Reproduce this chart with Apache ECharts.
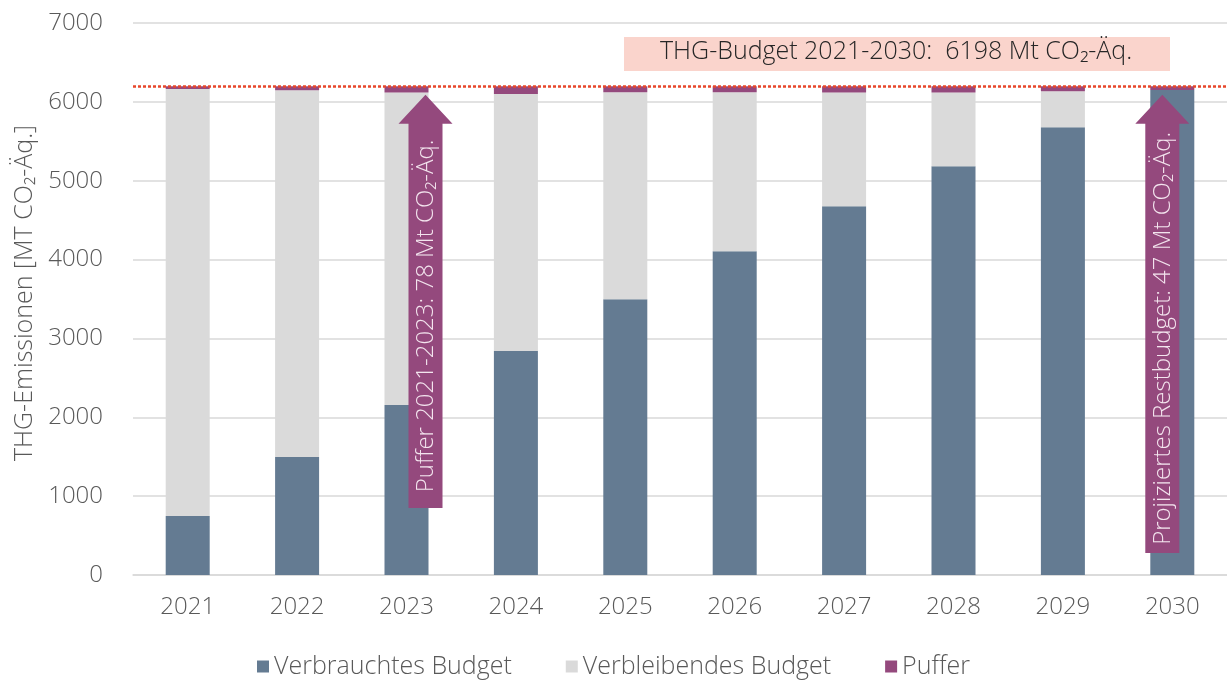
<!DOCTYPE html>
<html>
<head>
<meta charset="utf-8">
<script src="https://cdn.jsdelivr.net/npm/echarts@6/dist/echarts.min.js"></script>
<style>
  html, body { margin: 0; padding: 0; background: #fff; }
  #chart { width: 1227px; height: 686px; }
</style>
</head>
<body>
<div id="chart"></div>
<script>
var years = ["2021", "2022", "2023", "2024", "2025", "2026", "2027", "2028", "2029", "2030"];
var verbraucht = [748, 1496, 2155, 2839, 3498, 4106, 4677, 5184, 5678, 6151];
var verbleibend = [5415, 4652, 3963, 3262, 2624, 2016, 1441, 934, 457, 0];
var puffer = [35, 50, 80, 97, 76, 76, 80, 80, 63, 47];
var budget = 6198;

// arrows: category index, start value, tip value, label
var arrowCats = [2, 9];
var arrowFrom = [850, 280];
var arrowTo = [6090, 6090];
var arrowText = ["Puffer 2021-2023: 78 Mt CO₂-Äq.", "Projiziertes Restbudget: 47 Mt CO₂-Äq."];

var arrowShift = [19, -10];
var font = "'Open Sans', 'Noto Sans', sans-serif";
var grey = "#595959";
var purple = "#94497D";

var arrowData = arrowCats.map(function (c, i) {
  return [c, arrowFrom[i], arrowTo[i], i];
});

var myChart = echarts.init(document.getElementById("chart"));

var option = {
  animation: false,
  textStyle: { fontFamily: font, fontWeight: 300 },
  grid: { left: 133, right: 0, top: 23, bottom: 111 },
  legend: {
    data: ["Verbrauchtes Budget", "Verbleibendes Budget", "Puffer"],
    bottom: 2,
    left: "center",
    icon: "rect",
    itemWidth: 12,
    itemHeight: 12,
    itemGap: 54,
    textStyle: { fontSize: 25, color: grey, fontFamily: font, fontWeight: 300 }
  },
  xAxis: {
    type: "category",
    data: years,
    axisTick: { show: false },
    axisLine: { lineStyle: { color: "#d9d9d9", width: 1.5 } },
    axisLabel: { fontSize: 24, color: grey, margin: 20, fontFamily: font, fontWeight: 300 }
  },
  yAxis: {
    type: "value",
    min: 0,
    max: 7000,
    interval: 1000,
    name: "THG-Emissionen [MT CO₂-Äq.]",
    nameLocation: "middle",
    nameGap: 94,
    nameTextStyle: { fontSize: 25, color: grey, fontFamily: font, fontWeight: 300, padding: [0, 0, 0, 12] },
    axisLabel: {
      fontSize: 24, color: grey, margin: 30, fontFamily: font, fontWeight: 300,
      formatter: function (v) { return String(v); }
    },
    splitLine: { lineStyle: { color: "#d9d9d9", width: 1.5 } }
  },
  graphic: [
    { type: "rect", left: 624, top: 37, shape: { width: 546, height: 34 }, style: { fill: "#FAD4CC" } },
    {
      type: "text", left: 660, top: 39,
      style: { text: "THG-Budget 2021-2030:  6198 Mt CO₂-Äq.", fill: "#262626", font: "300 25px " + font }
    }
  ],
  series: [
    {
      name: "Verbrauchtes Budget",
      type: "bar",
      stack: "b",
      barWidth: 44,
      itemStyle: { color: "#647B92" },
      data: verbraucht
    },
    {
      name: "Verbleibendes Budget",
      type: "bar",
      stack: "b",
      itemStyle: { color: "#DADADA" },
      data: verbleibend
    },
    {
      name: "Puffer",
      type: "bar",
      stack: "b",
      itemStyle: { color: purple },
      data: puffer,
      markLine: {
        silent: true,
        symbol: "none",
        label: { show: false },
        lineStyle: { color: "#E8472B", type: [3, 2], width: 2.5 },
        data: [{ yAxis: budget }]
      }
    },
    {
      type: "custom",
      name: "arrows",
      clip: false,
      z: 10,
      data: arrowData,
      renderItem: function (params, api) {
        var idx = api.value(3);
        var bottom = api.coord([api.value(0), api.value(1)]);
        var tip = api.coord([api.value(0), api.value(2)]);
        var cx = bottom[0] + arrowShift[idx];
        var sw = 17, hw = 27, hh = 29;
        var by = bottom[1], ty = tip[1];
        var points = [
          [cx - sw, by], [cx - sw, ty + hh], [cx - hw, ty + hh], [cx, ty],
          [cx + hw, ty + hh], [cx + sw, ty + hh], [cx + sw, by]
        ];
        return {
          type: "group",
          children: [
            { type: "polygon", shape: { points: points }, style: { fill: purple } },
            {
              type: "text",
              x: cx + 1,
              y: (by + ty + hh) / 2,
              rotation: Math.PI / 2,
              style: {
                text: arrowText[idx],
                fill: "#F3E4EE",
                font: "300 24px " + font,
                align: "center",
                verticalAlign: "middle"
              }
            }
          ]
        };
      }
    }
  ]
};

myChart.setOption(option);
</script>
</body>
</html>
